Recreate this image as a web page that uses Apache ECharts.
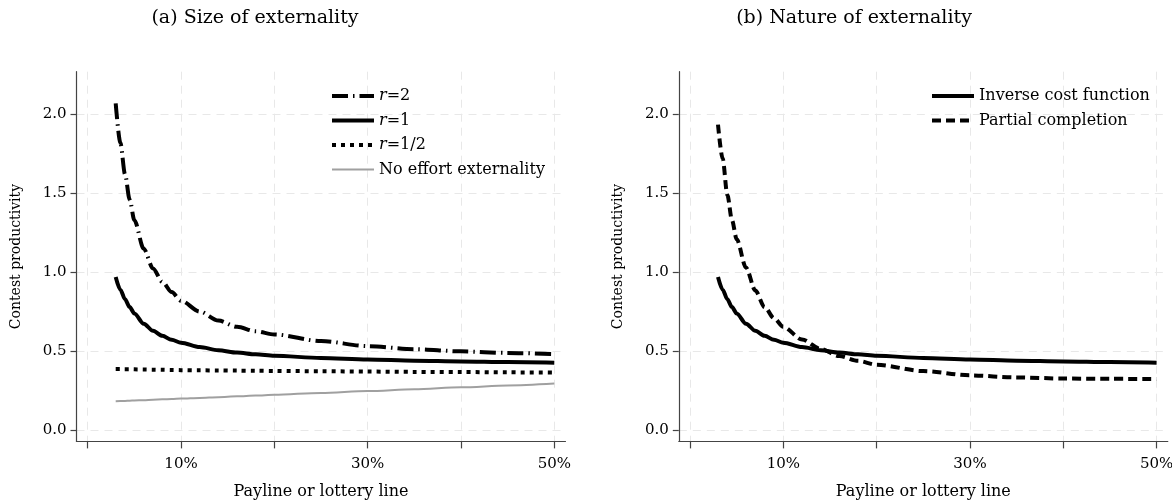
<!DOCTYPE html>
<html>
<head>
<meta charset="utf-8">
<script src="https://cdn.jsdelivr.net/npm/echarts@6/dist/echarts.min.js"></script>
<style>
  html, body { margin: 0; padding: 0; background: #fff; }
  #main { width: 1172px; height: 501px; }
</style>
</head>
<body>
<div id="main"></div>
<script>
// payline (percent) shared by all curves
const payline = [3, 3.5, 4, 4.5, 5, 6, 7, 8, 9, 10, 12, 14, 16, 18, 20, 25, 30, 35, 40, 45, 50]

// (a) size of externality
const sizeR2 = [2.07, 1.82, 1.62, 1.46, 1.33, 1.15, 1.025, 0.94, 0.875, 0.82, 0.752, 0.695, 0.655, 0.627, 0.607, 0.565, 0.533, 0.514, 0.5, 0.49, 0.483]
const sizeR1 = [0.97, 0.89, 0.83, 0.78, 0.74, 0.675, 0.63, 0.598, 0.573, 0.555, 0.527, 0.507, 0.492, 0.481, 0.472, 0.458, 0.448, 0.441, 0.436, 0.432, 0.428]
const sizeRHalf = [0.388, 0.388, 0.387, 0.387, 0.386, 0.385, 0.384, 0.383, 0.382, 0.381, 0.380, 0.379, 0.378, 0.377, 0.376, 0.374, 0.372, 0.370, 0.369, 0.367, 0.366]
const noEffort = [0.184, 0.185, 0.186, 0.188, 0.189, 0.191, 0.194, 0.196, 0.198, 0.201, 0.205, 0.210, 0.215, 0.220, 0.225, 0.237, 0.249, 0.260, 0.272, 0.284, 0.296]

// (b) nature of externality
const inverseCost = sizeR1
const partialCompletion = [1.935, 1.72, 1.49, 1.33, 1.21, 1.03, 0.885, 0.78, 0.71, 0.655, 0.575, 0.515, 0.47, 0.44, 0.415, 0.375, 0.348, 0.335, 0.328, 0.326, 0.325]

// axis ticks
const xTicks = [0, 10, 20, 30, 40, 50]
const xLabels = [10, 30, 50]
const yTicks = [0, 0.5, 1, 1.5, 2]

const FONT = 'DejaVu Serif'

// line styles, shared by series and legend icons
const STY = {
  r2: { color: '#000', width: 4, type: [16, 5, 1.5, 5] },
  r1: { color: '#000', width: 4, type: 'solid' },
  rh: { color: '#000', width: 4, type: [4, 5] },
  none: { color: '#a0a0a0', width: 2, type: 'solid' },
  part: { color: '#000', width: 4, type: [9, 5] },
}

function pairs(ys) {
  return payline.map((x, i) => [x, ys[i]])
}

function makeX(idx) {
  return {
    type: 'value',
    gridIndex: idx,
    min: -1.2,
    max: 51.2,
    name: 'Payline or lottery line',
    nameLocation: 'middle',
    nameGap: 42,
    nameTextStyle: { fontFamily: FONT, fontSize: 16, color: '#000' },
    axisLine: { onZero: false, lineStyle: { color: '#444', width: 1.2 } },
    axisTick: { customValues: xTicks, length: 7, lineStyle: { color: '#444', width: 1.2 } },
    axisLabel: {
      customValues: xLabels,
      margin: 15,
      fontFamily: FONT,
      fontSize: 15,
      color: '#000',
      formatter: (v) => v + '%',
    },
    splitLine: { show: true, lineStyle: { color: '#e8e8e8', width: 1, type: [8, 6] } },
  }
}

function makeY(idx) {
  return {
    type: 'value',
    gridIndex: idx,
    min: -0.07,
    max: 2.27,
    name: 'Contest productivity',
    nameLocation: 'middle',
    nameGap: 53,
    nameTextStyle: { fontFamily: FONT, fontSize: 14, color: '#000' },
    axisLine: { show: true, onZero: false, lineStyle: { color: '#444', width: 1.2 } },
    axisTick: { show: true, customValues: yTicks, length: 6, lineStyle: { color: '#444', width: 1.2 } },
    axisLabel: {
      customValues: yTicks,
      margin: 10,
      fontFamily: FONT,
      fontSize: 15,
      color: '#000',
      formatter: (v) => v.toFixed(1),
    },
    splitLine: { show: true, lineStyle: { color: '#e8e8e8', width: 1, type: [8, 6] } },
  }
}

function line(name, idx, ys, style, z) {
  return {
    name: name,
    type: 'line',
    xAxisIndex: idx,
    yAxisIndex: idx,
    data: pairs(ys),
    symbol: 'none',
    showSymbol: false,
    smooth: 0.3,
    smoothMonotone: 'x',
    lineStyle: Object.assign({ cap: 'butt' }, style),
    itemStyle: { color: style.color },
    z: z || 3,
  }
}

const legendText = {
  fontFamily: FONT,
  fontSize: 16,
  color: '#000',
  rich: {
    it: { fontFamily: FONT, fontSize: 16, fontStyle: 'italic', color: '#000' },
    n: { fontFamily: FONT, fontSize: 16, color: '#000' },
  },
}

function legendItem(name, style) {
  return { name: name, lineStyle: Object.assign({ cap: 'butt' }, style) }
}

const chart = echarts.init(document.getElementById('main'))
chart.setOption({
  animation: false,
  backgroundColor: '#fff',
  title: [
    { text: '(a) Size of externality', left: 250, top: 4, textAlign: 'center',
      textStyle: { fontFamily: FONT, fontSize: 19, fontWeight: 'normal', color: '#000' } },
    { text: '(b) Nature of externality', left: 849, top: 4, textAlign: 'center',
      textStyle: { fontFamily: FONT, fontSize: 19, fontWeight: 'normal', color: '#000' } },
  ],
  grid: [
    { left: 76.5, top: 71.7, width: 489, height: 369.7, outerBoundsMode: 'none' },
    { left: 678.8, top: 71.7, width: 489, height: 369.7, outerBoundsMode: 'none' },
  ],
  legend: [
    {
      data: [
        legendItem('r=2', STY.r2),
        legendItem('r=1', STY.r1),
        legendItem('r=1/2', STY.rh),
        legendItem('No effort externality', STY.none),
      ],
      orient: 'vertical',
      left: 330,
      top: 88,
      padding: 0,
      itemWidth: 42,
      itemHeight: 14,
      itemGap: 8.5,
      itemStyle: { opacity: 0 },
      textStyle: legendText,
      formatter: (n) => (n.indexOf('r=') === 0 ? '{it|r}{n|' + n.slice(1) + '}' : n),
    },
    {
      data: [
        legendItem('Inverse cost function', STY.r1),
        legendItem('Partial completion', STY.part),
      ],
      orient: 'vertical',
      left: 930,
      top: 88,
      padding: 0,
      itemWidth: 42,
      itemHeight: 14,
      itemGap: 8.5,
      itemStyle: { opacity: 0 },
      textStyle: legendText,
    },
  ],
  xAxis: [makeX(0), makeX(1)],
  yAxis: [makeY(0), makeY(1)],
  series: [
    line('r=2', 0, sizeR2, STY.r2),
    line('r=1', 0, sizeR1, STY.r1),
    line('r=1/2', 0, sizeRHalf, STY.rh),
    line('No effort externality', 0, noEffort, STY.none, 2),
    line('Inverse cost function', 1, inverseCost, STY.r1),
    line('Partial completion', 1, partialCompletion, STY.part),
  ],
})
</script>
</body>
</html>
